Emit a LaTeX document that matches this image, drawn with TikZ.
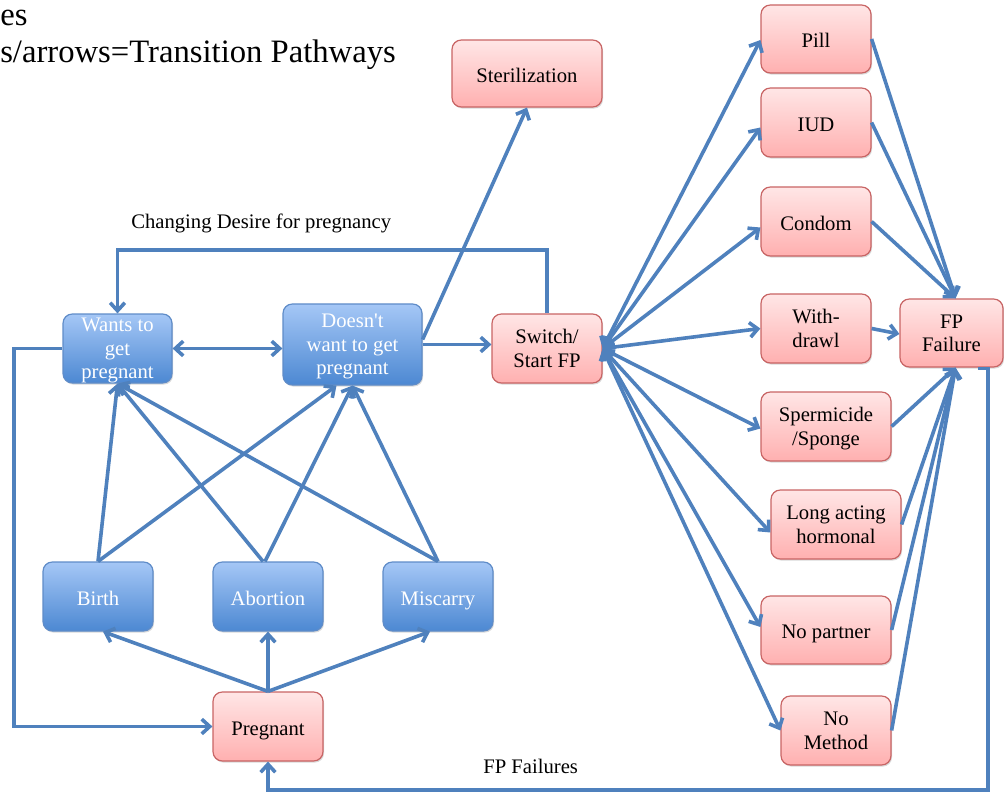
\documentclass[tikz,border=0pt]{standalone}
\usepackage{fontspec}
\setmainfont{Liberation Serif}
\usetikzlibrary{arrows.meta,shadows,calc}
\definecolor{lineblue}{RGB}{79,129,189}
\definecolor{bluetop}{RGB}{165,199,246}
\definecolor{bluebot}{RGB}{76,136,210}
\definecolor{blueborder}{RGB}{95,140,200}
\definecolor{redtop}{RGB}{255,230,230}
\definecolor{redbot}{RGB}{255,176,176}
\definecolor{redborder}{RGB}{200,100,100}
\begin{document}
\begin{tikzpicture}[x=0.75pt,y=-0.75pt,
  box/.style={rounded corners=7pt, line width=0.9pt, inner sep=0pt, align=center,
    font=\fontsize{15.5}{17.6}\selectfont, text depth=0pt,
    drop shadow={shadow xshift=0.8pt,shadow yshift=-1.2pt,opacity=0.3}},
  one/.style={text height=13.3pt, text depth=0pt},
  sz/.style 2 args={minimum width=#1*0.75pt, minimum height=#2*0.75pt},
  bluebox/.style={box, draw=blueborder, top color=bluetop, bottom color=bluebot, text=white},
  redbox/.style={box, draw=redborder, top color=redtop, bottom color=redbot, text=black},
  conn/.style={draw=lineblue, line width=2.7pt, -{Straight Barb[length=6pt,width=11pt]}},
  dconn/.style={draw=lineblue, line width=2.7pt, {Straight Barb[length=6pt,width=11pt]}-{Straight Barb[length=6pt,width=11pt]}},
  lbl/.style={font=\fontsize{15.5}{18}\selectfont, inner sep=0pt, anchor=base west},
  ttl/.style={font=\fontsize{24.5}{28}\selectfont, inner sep=0pt, anchor=base west}
]
\useasboundingbox (0,0) rectangle (1004,795);

% titles and labels
\node[ttl] (t1) at (0,26) {es};
\node[ttl] (t2) at (0,63) {s/arrows=Transition Pathways};
\node[lbl] (l1) at (131,229) {Changing Desire for pregnancy};
\node[lbl] (l2) at (483,773) {FP Failures};

% nodes
\node[bluebox, sz={109}{69}] (w) at (117.5,348.5) {Wants to\\get\\pregnant};
\node[bluebox, sz={139}{81}] (d) at (352.5,344.5) {Doesn\textquotesingle t\\want to get\\pregnant};
\node[redbox, sz={110}{69}] (sw) at (547,348.5) {Switch/\\Start FP};
\node[redbox, one, sz={150}{67}] (st) at (527,73.5) {Sterilization};
\node[redbox, one, sz={110}{68}] (pill) at (816,39) {Pill};
\node[redbox, one, sz={110}{69}] (iud) at (816,122.5) {IUD};
\node[redbox, one, sz={110}{69}] (co) at (816,221.5) {Condom};
\node[redbox, sz={110}{69}] (wd) at (816,328.5) {With-\\drawl};
\node[redbox, sz={103}{68}] (fp) at (951.5,333) {FP\\Failure};
\node[redbox, sz={130}{69}] (sp) at (826,426.5) {Spermicide\\/Sponge};
\node[redbox, sz={130}{69}] (la) at (836,524.5) {Long acting\\hormonal};
\node[redbox, one, sz={130}{68}] (np) at (826,630) {No partner};
\node[redbox, sz={110}{69}] (nm) at (836,730.5) {No\\Method};
\node[bluebox, one, sz={110}{69}] (b) at (98,596.5) {Birth};
\node[bluebox, one, sz={110}{69}] (a) at (268,596.5) {Abortion};
\node[bluebox, one, sz={110}{69}] (m) at (438,596.5) {Miscarry};
\node[redbox, one, sz={110}{69}] (pr) at (268,726.5) {Pregnant};

% helper coordinates
\coordinate (ytop) at (0,250);
\coordinate (xleft) at (14,0);
\coordinate (fpc) at (988,790);

% connectors
\draw[dconn] (w.east) -- (w.east -| d.west);
\draw[conn] (d.east) -- (d.east -| sw.west);
\draw[conn] ($(d.east)+(0,-5)$) -- (st.south);
\draw[conn] (sw.north) -- (sw.north |- ytop) -| (w.north);
\draw[conn] (w.west) -- (w.west -| xleft) |- (pr.west);
\draw[conn] ($(fp.south east)+(-26,1)$) -| (fpc) -| (pr.south);

\draw[conn] (pr.north) -- ($(b.south)+(5,0)$);
\draw[conn] (pr.north) -- (a.south);
\draw[conn] (pr.north) -- ($(m.south)+(-8,0)$);

\draw[conn] (b.north) -- (w.south);
\draw[conn] (b.north) -- ($(d.south)+(-16,0)$);
\draw[conn] ($(a.north)+(-5,0)$) -- (w.south);
\draw[conn] ($(a.north)+(-3,0)$) -- (d.south);
\draw[conn] (m.north) -- (w.south);
\draw[conn] (m.north) -- (d.south);

\foreach \t/\dy in {pill/1, iud/5, co/6, wd/0, sp/2, la/8, np/-3, nm/0}
  \draw[dconn] (sw.east) -- ($(\t.west)+(0,\dy)$);

\foreach \t in {pill, iud, co}
  \draw[conn] (\t.east) -- ($(fp.north)+(4,0)$);
\draw[conn] (wd.east) -- ($(fp.west)+(0,1)$);
\foreach \t in {sp, la, np, nm}
  \draw[conn] (\t.east) -- ($(fp.south)+(4,0)$);
\end{tikzpicture}
\end{document}
